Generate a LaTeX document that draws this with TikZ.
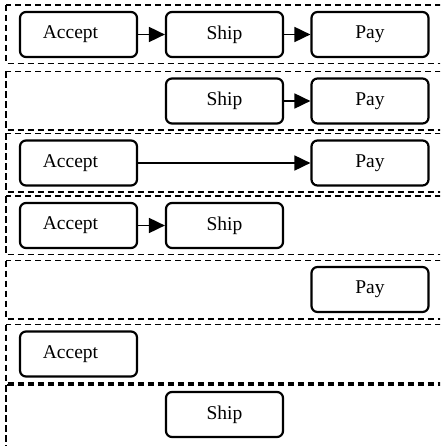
\documentclass[tikz,border=0pt]{standalone}
\usepackage{fontspec}
\setmainfont{Liberation Serif}
\usetikzlibrary{arrows.meta}
\begin{document}
\begin{tikzpicture}[x=1pt,y=-1pt,
  task/.style={draw, line width=2.2pt, rounded corners=6pt,
    minimum width=117pt, minimum height=45pt, inner sep=0pt,
    font=\fontsize{19.5}{22}\selectfont},
  leftset/.style={execute at begin node={\hspace*{-16pt}}},
  lane/.style={draw, line width=1.7pt, dash pattern=on 6.5pt off 3.5pt},
  flow/.style={line width=1.8pt, -{Triangle[length=16pt,width=15pt]}}]
\useasboundingbox (0,0) rectangle (440,446);
\clip (0,0) rectangle (440,446);

% dashed lanes, one per sequence
\foreach \c in {34.5,101,163,225.5,290,354} {
  \draw[lane] (6,\c-29.5) rectangle (470,\c+29);
}
\draw[lane] (6,385) rectangle (470,470);

% lane 1: Accept -> Ship -> Pay
\node[task,leftset] (a1) at (78.5,34.5) {Accept};
\node[task] (s1) at (224.5,34.5) {Ship};
\node[task] (p1) at (370,34.5) {Pay};
\draw[flow] (a1) -- (s1);
\draw[flow] (s1) -- (p1);

% lane 2: Ship -> Pay
\node[task] (s2) at (224.5,101) {Ship};
\node[task] (p2) at (370,101) {Pay};
\draw[flow] (s2) -- (p2);

% lane 3: Accept -> Pay
\node[task,leftset] (a3) at (78.5,163) {Accept};
\node[task] (p3) at (370,163) {Pay};
\draw[flow] (a3) -- (p3);

% lane 4: Accept -> Ship
\node[task,leftset] (a4) at (78.5,225.5) {Accept};
\node[task] (s4) at (224.5,225.5) {Ship};
\draw[flow] (a4) -- (s4);

% lane 5: Pay
\node[task] (p5) at (370,289.5) {Pay};

% lane 6: Accept
\node[task,leftset] (a6) at (78.5,354) {Accept};

% lane 7: Ship
\node[task] (s7) at (224.5,414.5) {Ship};
\end{tikzpicture}
\end{document}
